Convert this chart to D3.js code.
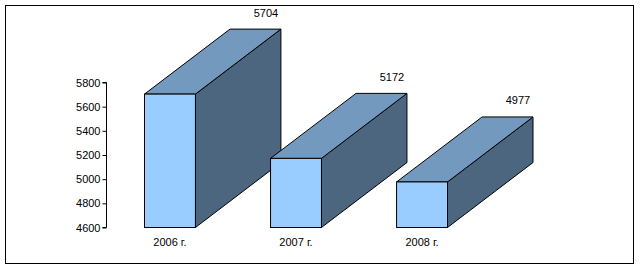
<!DOCTYPE html>
<html><head><meta charset="utf-8">
<script src="https://cdn.jsdelivr.net/npm/d3@7"></script>
<style>html,body{margin:0;padding:0;background:#fff;}svg{display:block;font-family:"Liberation Sans",Arial,sans-serif;}</style>
</head><body>
<script>
const categories = ["2006 г.", "2007 г.", "2008 г."];
const values = [5704, 5172, 4977];
const yTicks = [4600, 4800, 5000, 5200, 5400, 5600, 5800];

const W = 640, H = 269;
const svg = d3.select("body").append("svg").attr("width", W).attr("height", H);

svg.append("rect").attr("x", 5.5).attr("y", 5.5).attr("width", 628).attr("height", 258)
  .attr("fill", "#fff").attr("stroke", "#000").attr("stroke-width", 1);

const y = d3.scaleLinear().domain([4600, 5800]).range([227.5, 82.5]);
const x = d3.scaleBand().domain(categories).range([144.5, 447.5]).paddingInner(0.596).paddingOuter(0);
const dx = 85.5, dy = -65;
const bw = x.bandwidth();

const colFront = "#99CCFF", colTop = "#7399BF", colSide = "#4D6680";

const axis = d3.axisLeft(y).tickValues(yTicks).tickSize(4).tickPadding(2).tickFormat(d3.format("d"));
const ag = svg.append("g").attr("transform", "translate(106.5,0)").call(axis);
ag.selectAll("path,line").attr("stroke", "#000");
ag.select(".domain").attr("d", `M-4,${y(5800)}H0V${y(4600)}H-4`);
ag.selectAll("text").attr("fill", "#000").style("font-size", "11px").style("font-family", '"Liberation Sans",Arial,sans-serif');

const data = categories.map((c, i) => ({c, v: values[i]}));
const base = y(4600);
const bars = svg.append("g").selectAll("g").data(data).join("g");

bars.append("path") // side
  .attr("d", d => {
    const x1 = x(d.c) + bw, t = y(d.v);
    return `M${x1},${t}L${x1+dx},${t+dy}L${x1+dx},${base+dy}L${x1},${base}Z`;
  })
  .attr("fill", colSide).attr("stroke", "#000").attr("stroke-width", 1).attr("stroke-linejoin", "round");

bars.append("path") // top
  .attr("d", d => {
    const x0 = x(d.c), x1 = x0 + bw, t = y(d.v);
    return `M${x0},${t}L${x0+dx},${t+dy}L${x1+dx},${t+dy}L${x1},${t}Z`;
  })
  .attr("fill", colTop).attr("stroke", "#000").attr("stroke-width", 1).attr("stroke-linejoin", "round");

bars.append("rect") // front
  .attr("x", d => x(d.c)).attr("y", d => y(d.v))
  .attr("width", bw).attr("height", d => base - y(d.v))
  .attr("fill", colFront).attr("stroke", "#000").attr("stroke-width", 1);

bars.append("text")
  .attr("x", d => x(d.c) + bw + dx - 15)
  .attr("y", d => y(d.v) + dy - 12.5)
  .attr("text-anchor", "middle").style("font-size", "11px").attr("fill", "#000")
  .text(d => d.v);

svg.append("g").selectAll("text").data(categories).join("text")
  .attr("x", d => x(d) + bw / 2).attr("y", 246)
  .attr("text-anchor", "middle").style("font-size", "11px").attr("fill", "#000")
  .text(d => d);
</script>
</body></html>
